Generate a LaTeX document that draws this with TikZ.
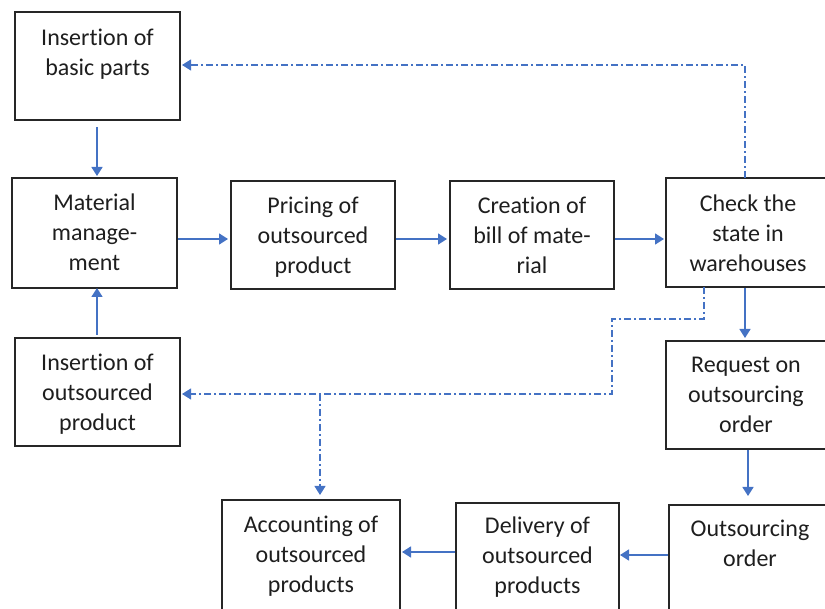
\documentclass[tikz,border=0pt]{standalone}
\usepackage{fontspec}
\setmainfont[RawFeature={-liga}]{Carlito}
\usetikzlibrary{arrows.meta,calc}
\definecolor{lineblue}{RGB}{68,114,196}
\definecolor{txt}{RGB}{30,30,30}
\begin{document}
\begin{tikzpicture}[x=1pt,y=-1pt,
  box/.style={draw=black!85, line width=1.3pt, rectangle, inner sep=0pt, outer sep=0pt},
  lbl/.style={align=center, inner sep=0pt, anchor=north, text=txt, font=\fontsize{24}{30}\selectfont},
  arr/.style={lineblue, line width=1.6pt, -{Triangle[length=9pt,width=11pt]}},
  dd/.style={arr, line width=1.2pt, dash pattern=on 7pt off 3pt on 2pt off 3pt}]
\useasboundingbox (0,0) rectangle (825,609);
\clip (0,0) rectangle (825,609);
% boxes
\node[box, minimum width=165, minimum height=108] (bp) at (97.5,66) {};
\node[box, minimum width=165, minimum height=110] (mm) at (94.5,233) {};
\node[box, minimum width=164, minimum height=108] (pr) at (313,235) {};
\node[box, minimum width=164, minimum height=108] (cr) at (532,235) {};
\node[box, minimum width=160, minimum height=109] (ck) at (746,232.5) {};
\node[box, minimum width=160, minimum height=108] (rq) at (746,395) {};
\node[box, minimum width=165, minimum height=108] (io) at (97.5,392) {};
\node[box, minimum width=162, minimum height=112] (oo) at (750,561) {};
\node[box, minimum width=163, minimum height=112] (dl) at (537.5,559) {};
\node[box, minimum width=178, minimum height=112] (ac) at (311,556) {};
% labels
\node[lbl] (bp-t) at ([yshift=-12pt]bp.north) {\strut Insertion of\\basic parts};
\node[lbl] (mm-t) at ([yshift=-11pt]mm.north) {\strut Material\\manage-\\ment};
\node[lbl] (pr-t) at ([yshift=-11pt]pr.north) {\strut Pricing of\\outsourced\\product};
\node[lbl] (cr-t) at ([yshift=-11pt]cr.north) {\strut Creation of\\bill of mate-\\rial};
\node[lbl] (ck-t) at ([xshift=2pt,yshift=-12pt]ck.north) {\strut Check the\\state in\\warehouses};
\node[lbl] (rq-t) at ([yshift=-10pt]rq.north) {\strut Request on\\outsourcing\\order};
\node[lbl] (io-t) at ([yshift=-11pt]io.north) {\strut Insertion of\\outsourced\\product};
\node[lbl] (oo-t) at ([yshift=-10pt]oo.north) {\strut Outsourcing\\order};
\node[lbl] (dl-t) at ([yshift=-9pt]dl.north) {\strut Delivery of\\outsourced\\products};
\node[lbl] (ac-t) at ([yshift=-11pt]ac.north) {\strut Accounting of\\outsourced\\products};
% helper coordinates on box sides
\coordinate (bpS) at ($(bp.south)+(-0.5,0)$);
\coordinate (ioN) at ($(io.north)+(-0.5,0)$);
\coordinate (mmE) at ($(mm.east)+(0,6)$);
\coordinate (prE) at ($(pr.east)+(0,4)$);
\coordinate (crE) at ($(cr.east)+(0,4)$);
\coordinate (ckS) at ($(ck.south)+(-1,0)$);
\coordinate (rqS) at ($(rq.south)+(2,0)$);
\coordinate (ooW) at ($(oo.west)+(0,-6)$);
\coordinate (dlW) at ($(dl.west)+(0,-7)$);
% solid connectors
\draw[arr, shorten <=7pt, shorten >=2pt] (bpS) -- (bpS |- mm.north);
\draw[arr, shorten <=1pt, shorten >=3pt] (mmE) -- (mmE -| pr.west);
\draw[arr, shorten <=1pt, shorten >=3pt] (prE) -- (prE -| cr.west);
\draw[arr, shorten <=1pt, shorten >=2pt] (crE) -- (crE -| ck.west);
\draw[arr, shorten <=1pt, shorten >=3pt] (ckS) -- (ckS |- rq.north);
\draw[arr, shorten <=1pt, shorten >=9pt] (rqS) -- (rqS |- oo.north);
\draw[arr, shorten <=1pt, shorten >=1pt] (ooW) -- (ooW -| dl.east);
\draw[arr, shorten <=1pt, shorten >=2pt] (dlW) -- (dlW -| ac.east);
\draw[arr, shorten <=3pt, shorten >=0pt] (ioN) -- (ioN |- mm.south);
% dash-dot connectors
\draw[dd, shorten >=2pt] ($(ck.north)+(-1,0)$) |- ($(bp.east)+(0,-1)$);
\coordinate (c1) at ($(ck.south)+(-42,0)$);
\coordinate (k1) at (612,319);
\coordinate (k2) at (612,394);
\coordinate (b1) at (320,394);
\draw[dd, shorten >=2pt] (c1) |- (k1) -- (k2) -- (io.east |- k2);
\draw[dd, shorten >=5pt] (b1) -- (b1 |- ac.north);
\end{tikzpicture}
\end{document}
